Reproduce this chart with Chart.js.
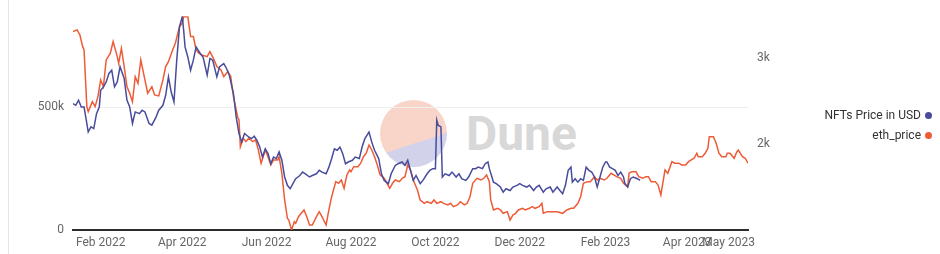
<!DOCTYPE html>
<html>
<head>
<meta charset="utf-8">
<script src="https://cdn.jsdelivr.net/npm/chart.js@4.4.1/dist/chart.umd.min.js"></script>
<style>
  html, body { margin: 0; padding: 0; background: #fff; }
  #wrap { position: relative; width: 940px; height: 254px; overflow: hidden; font-family: Roboto, "Liberation Sans", sans-serif; }
  #edge { position: absolute; left: 8px; top: 0; width: 1px; height: 254px; background: #ebe4dd; }
  #mark { position: absolute; left: 380px; top: 100px; width: 67px; height: 67px; border-radius: 50%;
          background: linear-gradient(162deg, #f9d4c9 0%, #f9d4c9 61.6%, #d2d2ea 61.6%, #d2d2ea 100%); }
  #markText { position: absolute; left: 466px; top: 110px; font: bold 48px/48px Roboto, sans-serif; color: #d8d8d8; }
  canvas { position: absolute; left: 0; top: 0; }
  .leg { position: absolute; right: 8px; display: flex; align-items: center; gap: 4px; font-size: 12px; line-height: 14px; color: #333; }
  .dot { width: 7px; height: 7px; border-radius: 50%; }
</style>
</head>
<body>
<div id="wrap">
  <div id="edge"></div>
  <div id="mark"></div>
  <div id="markText">Dune</div>
  <canvas id="chart" width="940" height="254"></canvas>
  <div class="leg" style="top:108px">NFTs Price in USD <span class="dot" style="background:#484c9b"></span></div>
  <div class="leg" style="top:128px">eth_price <span class="dot" style="background:#ee5b36"></span></div>
</div>
<script>
// days counted from 2022-01-01
const tickDays = [31, 90, 151, 212, 273, 334, 396, 455, 485];
const tickLabels = ['Feb 2022', 'Apr 2022', 'Jun 2022', 'Aug 2022', 'Oct 2022', 'Dec 2022', 'Feb 2023', 'Apr 2023', 'May 2023'];

const nftDay = [11, 13, 15, 17, 19, 21, 22, 24, 26, 28, 30, 31, 33, 35, 37, 39, 41, 43, 45, 48,
  50, 52, 54, 56, 59, 61, 63, 66, 68, 71, 73, 76, 78, 80, 82, 84, 86, 88, 90, 91,
  92, 94, 96, 98, 100, 103, 105, 108, 110, 112, 115, 117, 120, 122, 124, 127, 129, 131, 133, 135,
  138, 140, 142, 144, 146, 148, 150, 152, 154, 156, 158, 160, 162, 164, 166, 168, 170, 172, 175, 177,
  179, 182, 184, 187, 189, 191, 194, 196, 198, 200, 202, 204, 206, 208, 210, 213, 215, 218, 220, 222,
  225, 227, 229, 232, 234, 236, 239, 241, 244, 246, 249, 251, 253, 255, 257, 259, 262, 264, 267, 269,
  271, 273, 274, 275, 277, 278, 280, 283, 285, 288, 290, 292, 295, 297, 300, 302, 304, 307, 309, 311,
  312, 315, 317, 320, 322, 324, 327, 329, 332, 334, 336, 339, 341, 344, 346, 348, 351, 353, 356, 358,
  361, 363, 365, 367, 369, 371, 372, 374, 376, 378, 380, 382, 384, 386, 388, 390, 392, 394, 396, 397,
  399, 401, 403, 405, 407, 409, 410, 412, 414, 416, 419, 421];
const nftPrice = [515000, 508000, 529000, 501000, 501000, 434000, 399000, 420000, 413000, 474000, 501000, 569000, 583000, 603000, 638000, 651000, 583000, 603000, 665000, 617000,
  529000, 501000, 434000, 481000, 474000, 488000, 481000, 434000, 427000, 460000, 488000, 508000, 549000, 624000, 562000, 522000, 692000, 828000, 869000, 814000,
  746000, 705000, 651000, 692000, 746000, 719000, 705000, 631000, 699000, 692000, 624000, 665000, 678000, 658000, 631000, 556000, 460000, 393000, 358000, 393000,
  379000, 372000, 382000, 365000, 338000, 297000, 331000, 311000, 270000, 297000, 291000, 318000, 284000, 216000, 182000, 168000, 189000, 209000, 222000, 236000,
  229000, 216000, 222000, 229000, 243000, 236000, 229000, 256000, 291000, 331000, 325000, 338000, 311000, 270000, 277000, 284000, 297000, 291000, 338000, 372000,
  399000, 358000, 325000, 291000, 229000, 202000, 189000, 229000, 263000, 270000, 277000, 263000, 284000, 243000, 202000, 222000, 189000, 202000, 229000, 243000,
  250000, 250000, 447000, 427000, 420000, 216000, 229000, 222000, 236000, 216000, 229000, 209000, 202000, 216000, 250000, 250000, 256000, 250000, 270000, 277000,
  250000, 195000, 189000, 175000, 154000, 168000, 161000, 175000, 182000, 189000, 182000, 175000, 182000, 161000, 175000, 182000, 154000, 168000, 175000, 154000,
  175000, 161000, 148000, 182000, 243000, 256000, 195000, 209000, 195000, 209000, 202000, 256000, 243000, 236000, 216000, 175000, 216000, 256000, 277000, 277000,
  256000, 250000, 243000, 222000, 236000, 216000, 189000, 175000, 209000, 216000, 209000, 202000];

const ethDay = [11, 14, 16, 18, 19, 21, 22, 25, 27, 29, 31, 33, 35, 38, 40, 43, 44, 46, 48, 50,
  52, 54, 56, 58, 60, 63, 65, 68, 70, 73, 76, 78, 80, 83, 85, 88, 90, 91, 94, 96,
  98, 100, 102, 104, 108, 110, 113, 115, 118, 120, 123, 125, 127, 130, 131, 132, 134, 136, 138, 141,
  143, 145, 147, 150, 152, 154, 156, 159, 160, 162, 164, 166, 167, 169, 171, 172, 174, 176, 178, 180,
  182, 184, 187, 189, 191, 194, 196, 198, 201, 203, 205, 207, 209, 211, 212, 214, 217, 219, 221, 223,
  225, 227, 229, 231, 233, 236, 238, 240, 242, 244, 247, 249, 251, 253, 255, 257, 260, 262, 265, 267,
  270, 272, 274, 277, 279, 282, 284, 286, 289, 291, 294, 296, 298, 300, 303, 306, 308, 310, 312, 313,
  315, 318, 320, 322, 325, 327, 329, 331, 333, 336, 338, 341, 343, 345, 348, 350, 351, 354, 357, 361,
  365, 368, 371, 373, 376, 378, 380, 383, 385, 388, 390, 392, 395, 397, 400, 402, 404, 407, 409, 412,
  413, 415, 418, 420, 423, 425, 427, 429, 432, 434, 436, 437, 439, 441, 444, 446, 449, 451, 454, 456,
  458, 460, 462, 463, 466, 468, 470, 471, 474, 476, 478, 480, 483, 484, 486, 489, 491, 492, 495, 497,
  499];
const ethPrice = [3306, 3326, 3267, 3131, 3093, 2434, 2376, 2492, 2434, 2550, 2744, 2666, 2977, 3055, 3190, 3015, 2938, 3113, 2899, 2666,
  2590, 2492, 2783, 2706, 2977, 2744, 2590, 2666, 2570, 2558, 2744, 2899, 2957, 3093, 3171, 3364, 3403, 3480, 3480, 3248,
  3248, 3093, 3055, 3035, 3015, 3073, 2977, 2899, 2860, 2783, 2841, 2783, 2550, 2317, 2279, 1969, 2066, 2027, 2066, 2027,
  2047, 1930, 1776, 1930, 1852, 1756, 1814, 1814, 1852, 1659, 1349, 1136, 1116, 1000, 1097, 1078, 1155, 1194, 1233, 1155,
  1058, 1058, 1155, 1213, 1155, 1058, 1233, 1387, 1562, 1543, 1581, 1485, 1640, 1698, 1678, 1736, 1736, 1776, 1852, 1892,
  1988, 1930, 1852, 1756, 1640, 1601, 1543, 1485, 1543, 1581, 1562, 1601, 1620, 1756, 1698, 1581, 1465, 1349, 1310, 1329,
  1310, 1349, 1310, 1329, 1310, 1291, 1310, 1271, 1291, 1329, 1291, 1310, 1387, 1543, 1601, 1581, 1601, 1640, 1562, 1349,
  1233, 1252, 1233, 1194, 1213, 1116, 1174, 1194, 1233, 1252, 1233, 1252, 1271, 1252, 1271, 1310, 1194, 1213, 1213, 1213,
  1194, 1233, 1252, 1252, 1310, 1387, 1543, 1562, 1562, 1620, 1581, 1601, 1581, 1601, 1659, 1640, 1620, 1601, 1543, 1503,
  1659, 1678, 1678, 1620, 1601, 1620, 1620, 1562, 1562, 1523, 1407, 1503, 1698, 1659, 1794, 1776, 1776, 1756, 1756, 1794,
  1814, 1834, 1892, 1852, 1852, 1892, 1950, 2085, 2085, 2008, 1892, 1852, 1852, 1892, 1892, 1834, 1910, 1930, 1852, 1834,
  1776];

const toPoints = (xs, ys) => xs.map((x, i) => ({ x: x, y: ys[i] }));

Chart.defaults.font.family = 'Roboto, "Liberation Sans", sans-serif';
Chart.defaults.font.size = 12;
Chart.defaults.color = '#666';

new Chart(document.getElementById('chart'), {
  type: 'line',
  data: {
    datasets: [{
      label: 'NFTs Price in USD',
      data: toPoints(nftDay, nftPrice),
      yAxisID: 'y',
      borderColor: '#484c9b',
      borderWidth: 1.5,
      pointRadius: 0,
      fill: false
    }, {
      label: 'eth_price',
      data: toPoints(ethDay, ethPrice),
      yAxisID: 'y1',
      borderColor: '#ee5b36',
      borderWidth: 1.5,
      pointRadius: 0,
      fill: false
    }]
  },
  options: {
    responsive: false,
    animation: false,
    devicePixelRatio: 1,
    layout: { padding: { top: 16, right: 152, left: 0, bottom: 0 } },
    plugins: { legend: { display: false }, tooltip: { enabled: false } },
    scales: {
      x: {
        type: 'linear',
        min: 11,
        max: 499,
        afterBuildTicks: (s) => { s.ticks = tickDays.map(v => ({ value: v })); },
        afterFit: (s) => { s.height = 24; },
        ticks: {
          autoSkip: false,
          maxRotation: 0,
          padding: 6,
          color: '#666',
          callback: (v, i) => tickLabels[i]
        },
        grid: { display: false, drawTicks: false },
        border: { display: true, color: '#2b2b2b', width: 2 }
      },
      y: {
        position: 'left',
        min: 0,
        max: 871000,
        afterBuildTicks: (s) => { s.ticks = [{ value: 0 }, { value: 500000 }]; },
        afterFit: (s) => { s.width = 73; },
        ticks: {
          padding: 9,
          color: '#666',
          callback: (v) => v === 0 ? '0' : (v / 1000) + 'k'
        },
        grid: { color: '#efefef', drawTicks: false },
        border: { display: false }
      },
      y1: {
        position: 'right',
        min: 1000,
        max: 3485,
        afterBuildTicks: (s) => { s.ticks = [{ value: 2000 }, { value: 3000 }]; },
        afterFit: (s) => { s.width = 40; },
        ticks: {
          padding: 9,
          color: '#666',
          callback: (v) => (v / 1000) + 'k'
        },
        grid: { display: false, drawTicks: false },
        border: { display: false }
      }
    }
  }
});
</script>
</body>
</html>
